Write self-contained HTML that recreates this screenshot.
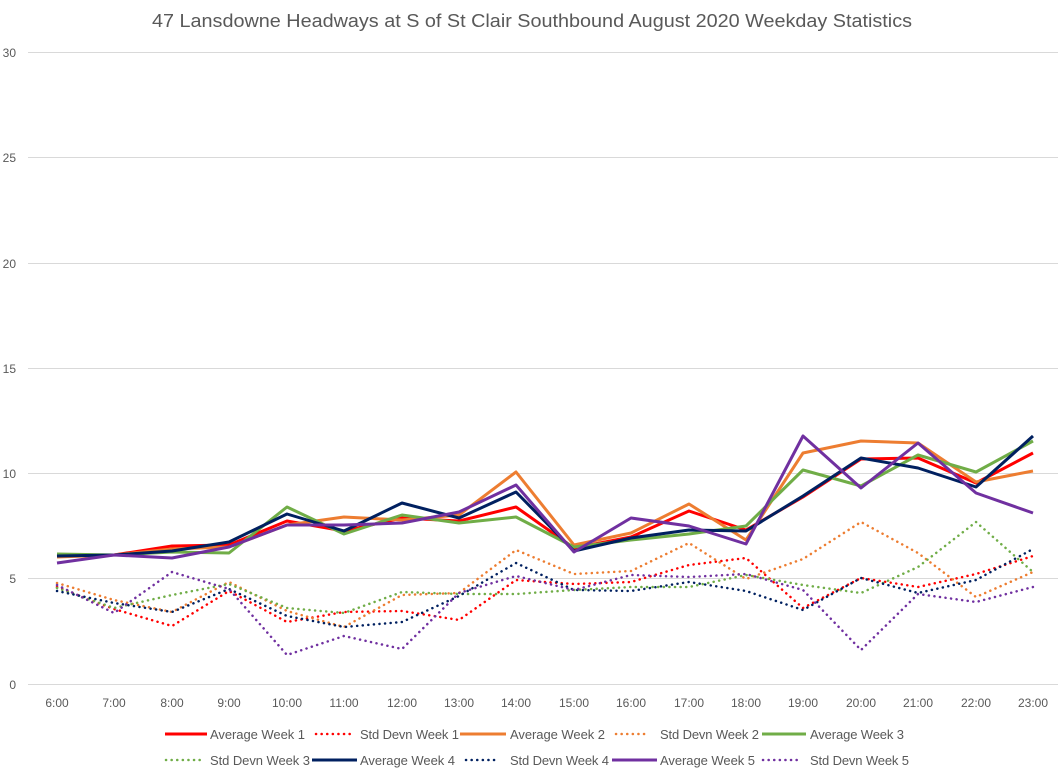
<!DOCTYPE html><html><head><style>body{margin:0;background:#fff}svg{display:block}</style></head><body>
<svg width="1059" height="777" xmlns="http://www.w3.org/2000/svg" font-family="Liberation Sans, sans-serif">
<rect width="1059" height="777" fill="#fff"/>
<text x="152" y="27" font-size="18" fill="#595959" textLength="760" lengthAdjust="spacingAndGlyphs">47 Lansdowne Headways at S of St Clair Southbound August 2020 Weekday Statistics</text>
<g stroke="#d9d9d9" stroke-width="1">
<line x1="28" x2="1058" y1="52.5" y2="52.5"/><line x1="28" x2="1058" y1="157.5" y2="157.5"/><line x1="28" x2="1058" y1="263.5" y2="263.5"/><line x1="28" x2="1058" y1="368.5" y2="368.5"/><line x1="28" x2="1058" y1="473.5" y2="473.5"/><line x1="28" x2="1058" y1="578.5" y2="578.5"/><line x1="28" x2="1058" y1="684.5" y2="684.5"/>
</g>
<g font-size="12" fill="#595959" text-anchor="end">
<text x="16" y="57">30</text><text x="16" y="162">25</text><text x="16" y="268">20</text><text x="16" y="373">15</text><text x="16" y="478">10</text><text x="16" y="583">5</text><text x="16" y="689">0</text>
</g>
<g font-size="12" fill="#595959" text-anchor="middle">
<text x="57" y="707">6:00</text><text x="114" y="707">7:00</text><text x="172" y="707">8:00</text><text x="229" y="707">9:00</text><text x="287" y="707">10:00</text><text x="344" y="707">11:00</text><text x="402" y="707">12:00</text><text x="459" y="707">13:00</text><text x="516" y="707">14:00</text><text x="574" y="707">15:00</text><text x="631" y="707">16:00</text><text x="689" y="707">17:00</text><text x="746" y="707">18:00</text><text x="803" y="707">19:00</text><text x="861" y="707">20:00</text><text x="918" y="707">21:00</text><text x="976" y="707">22:00</text><text x="1033" y="707">23:00</text>
</g>
<g fill="none" stroke-width="2.5" stroke-linecap="round" stroke-dasharray="0.1 5.5">
<polyline stroke="#ff0000" points="57,587 114,609 172,626 229,591 287,622 344,612 402,611 459,620 516,580 574,584 631,582 689,565 746,558 803,608 861,578 918,587 976,574 1033,556"/>
<polyline stroke="#ed7d31" points="57,583 114,600 172,612 229,582 287,611 344,627 402,595 459,593 516,550 574,574 631,571 689,543 746,579 803,559 861,522 918,553 976,597 1033,572"/>
<polyline stroke="#70ad47" points="57,588 114,608 172,595 229,584 287,608 344,613 402,592 459,594 516,594 574,590 631,587 689,587 746,575 803,585 861,593 918,567 976,522 1033,572"/>
<polyline stroke="#002060" points="57,591 114,603 172,612 229,589 287,616 344,627 402,622 459,596 516,563 574,590 631,591 689,582 746,591 803,610 861,578 918,593 976,580 1033,549"/>
<polyline stroke="#7030a0" points="57,585 114,613 172,572 229,589 287,655 344,636 402,649 459,593 516,576 574,590 631,575 689,577 746,574 803,590 861,650 918,594 976,602 1033,587"/>
</g>
<g fill="none" stroke-width="3" stroke-linejoin="round">
<polyline stroke="#ff0000" points="57,556 114,555 172,546 229,545 287,521 344,531 402,518 459,521 516,507 574,548 631,537 689,511 746,530 803,497 861,459 918,458 976,483 1033,453"/>
<polyline stroke="#ed7d31" points="57,557 114,555 172,549 229,547 287,525 344,517 402,520 459,515 516,472 574,545 631,533 689,504 746,540 803,453 861,441 918,443 976,482 1033,471"/>
<polyline stroke="#70ad47" points="57,554 114,555 172,552 229,553 287,507 344,534 402,515 459,523 516,517 574,547 631,540 689,534 746,526 803,470 861,486 918,455 976,472 1033,441"/>
<polyline stroke="#002060" points="57,556 114,555 172,551 229,542 287,514 344,531 402,503 459,518 516,492 574,551 631,538 689,530 746,531 803,496 861,458 918,468 976,487 1033,436"/>
<polyline stroke="#7030a0" points="57,563 114,555 172,558 229,547 287,525 344,525 402,523 459,512 516,485 574,552 631,518 689,526 746,544 803,436 861,488 918,443 976,493 1033,513"/>
</g>
<g font-size="13" fill="#595959" lengthAdjust="spacingAndGlyphs">
<line x1="165" x2="207" y1="734" y2="734" stroke="#ff0000" stroke-width="3"/><text x="210" y="739" textLength="95">Average Week 1</text>
<line x1="316" x2="350" y1="734" y2="734" stroke="#ff0000" stroke-width="2.5" stroke-linecap="round" stroke-dasharray="0.1 5.5"/><text x="360" y="739" textLength="99">Std Devn Week 1</text>
<line x1="460" x2="506" y1="734" y2="734" stroke="#ed7d31" stroke-width="3"/><text x="510" y="739" textLength="95">Average Week 2</text>
<line x1="616" x2="648" y1="734" y2="734" stroke="#ed7d31" stroke-width="2.5" stroke-linecap="round" stroke-dasharray="0.1 5.5"/><text x="660" y="739" textLength="99">Std Devn Week 2</text>
<line x1="762" x2="806" y1="734" y2="734" stroke="#70ad47" stroke-width="3"/><text x="810" y="739" textLength="94">Average Week 3</text>
<line x1="166" x2="200" y1="760" y2="760" stroke="#70ad47" stroke-width="2.5" stroke-linecap="round" stroke-dasharray="0.1 5.5"/><text x="210" y="765" textLength="100">Std Devn Week 3</text>
<line x1="312" x2="357" y1="760" y2="760" stroke="#002060" stroke-width="3"/><text x="360" y="765" textLength="95">Average Week 4</text>
<line x1="466" x2="498" y1="760" y2="760" stroke="#002060" stroke-width="2.5" stroke-linecap="round" stroke-dasharray="0.1 5.5"/><text x="510" y="765" textLength="99">Std Devn Week 4</text>
<line x1="612" x2="657" y1="760" y2="760" stroke="#7030a0" stroke-width="3"/><text x="660" y="765" textLength="95">Average Week 5</text>
<line x1="763" x2="800" y1="760" y2="760" stroke="#7030a0" stroke-width="2.5" stroke-linecap="round" stroke-dasharray="0.1 5.5"/><text x="810" y="765" textLength="99">Std Devn Week 5</text>
</g>
</svg></body></html>
